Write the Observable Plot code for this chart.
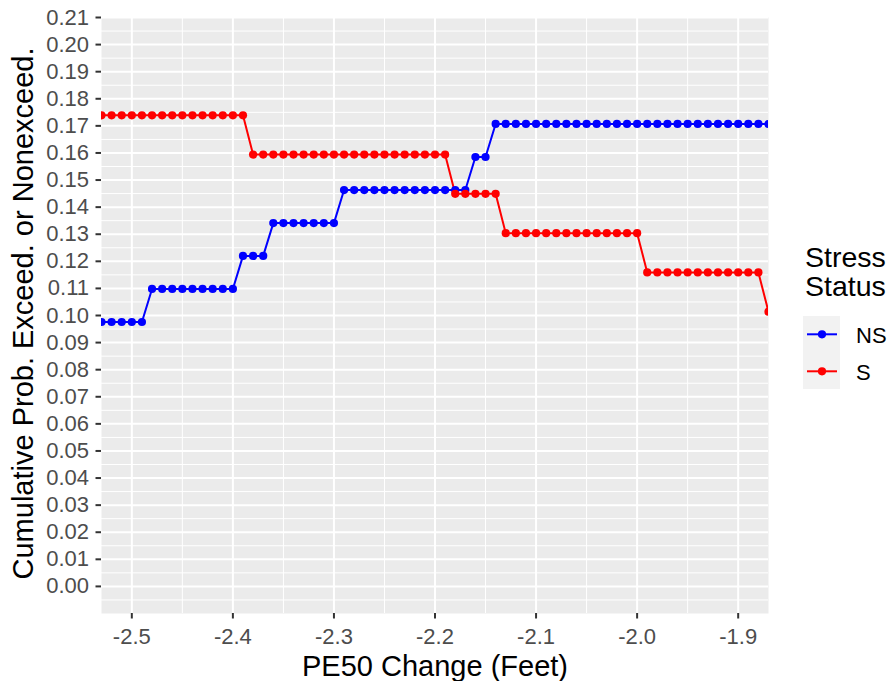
<!DOCTYPE html>
<html>
<head>
<meta charset="utf-8">
<script src="https://cdn.jsdelivr.net/npm/d3@7"></script>
<script src="https://cdn.jsdelivr.net/npm/@observablehq/plot@0.6"></script>
<style>
  html, body { margin: 0; padding: 0; background: #ffffff; }
  #wrap { position: relative; width: 890px; height: 681px; font-family: "Liberation Sans", Arial, sans-serif; }
  #legend { position: absolute; left: 795px; top: 235px; }
</style>
</head>
<body>
<div id="wrap"></div>
<script>
// ---- data ----
const xValues = [-2.53,-2.52,-2.51,-2.50,-2.49,-2.48,-2.47,-2.46,-2.45,-2.44,-2.43,-2.42,-2.41,-2.40,-2.39,-2.38,-2.37,-2.36,-2.35,-2.34,-2.33,-2.32,-2.31,-2.30,-2.29,-2.28,-2.27,-2.26,-2.25,-2.24,-2.23,-2.22,-2.21,-2.20,-2.19,-2.18,-2.17,-2.16,-2.15,-2.14,-2.13,-2.12,-2.11,-2.10,-2.09,-2.08,-2.07,-2.06,-2.05,-2.04,-2.03,-2.02,-2.01,-2.00,-1.99,-1.98,-1.97,-1.96,-1.95,-1.94,-1.93,-1.92,-1.91,-1.90,-1.89,-1.88,-1.87];

const nsValues = [
  0.0976,0.0976,0.0976,0.0976,0.0976,
  0.1098,0.1098,0.1098,0.1098,0.1098,0.1098,0.1098,0.1098,0.1098,
  0.1220,0.1220,0.1220,
  0.1341,0.1341,0.1341,0.1341,0.1341,0.1341,0.1341,
  0.1463,0.1463,0.1463,0.1463,0.1463,0.1463,0.1463,0.1463,0.1463,0.1463,0.1463,0.1463,0.1463,
  0.1585,0.1585,
  0.1707,0.1707,0.1707,0.1707,0.1707,0.1707,0.1707,0.1707,0.1707,0.1707,0.1707,0.1707,0.1707,0.1707,
  0.1707,0.1707,0.1707,0.1707,0.1707,0.1707,0.1707,0.1707,0.1707,0.1707,0.1707,0.1707,0.1707,0.1707
];

const sValues = [
  0.1739,0.1739,0.1739,0.1739,0.1739,0.1739,0.1739,0.1739,0.1739,0.1739,0.1739,0.1739,0.1739,0.1739,0.1739,
  0.1594,0.1594,0.1594,0.1594,0.1594,0.1594,0.1594,0.1594,0.1594,0.1594,0.1594,0.1594,0.1594,0.1594,0.1594,0.1594,0.1594,0.1594,0.1594,0.1594,
  0.1449,0.1449,0.1449,0.1449,0.1449,
  0.1304,0.1304,0.1304,0.1304,0.1304,0.1304,0.1304,0.1304,0.1304,0.1304,0.1304,0.1304,0.1304,0.1304,
  0.1159,0.1159,0.1159,0.1159,0.1159,0.1159,0.1159,0.1159,0.1159,0.1159,0.1159,0.1159,
  0.1014
];

const seriesNames = ["NS", "S"];
const seriesColors = ["#0000FF", "#FF0000"];
const legendTitle = ["Stress", "Status"];

const xTicks = [-2.5, -2.4, -2.3, -2.2, -2.1, -2.0, -1.9];
const xMinor = [-2.45, -2.35, -2.25, -2.15, -2.05, -1.95];
const yTicks = [0,0.01,0.02,0.03,0.04,0.05,0.06,0.07,0.08,0.09,0.10,0.11,0.12,0.13,0.14,0.15,0.16,0.17,0.18,0.19,0.20,0.21];
const yMinor = [-0.005,0.005,0.015,0.025,0.035,0.045,0.055,0.065,0.075,0.085,0.095,0.105,0.115,0.125,0.135,0.145,0.155,0.165,0.175,0.185,0.195,0.205];

const xLabel = "PE50 Change (Feet)";
const yLabel = "Cumulative Prob. Exceed. or Nonexceed.";

// ---- table ----
const rows = [];
seriesNames.forEach((name, k) => {
  const vals = k === 0 ? nsValues : sValues;
  xValues.forEach((x, i) => rows.push({series: name, x, y: vals[i]}));
});

const colorScale = {domain: seriesNames, range: seriesColors};

const chart = Plot.plot({
  width: 890,
  height: 681,
  marginLeft: 101,
  marginRight: 122,
  marginTop: 17,
  marginBottom: 68,
  style: {fontFamily: "'Liberation Sans', Arial, sans-serif", background: "#ffffff", overflow: "visible"},
  x: {domain: [-2.53, -1.87]},
  y: {domain: [-0.01, 0.21]},
  color: colorScale,
  marks: [
    Plot.frame({fill: "#EBEBEB", stroke: null}),
    Plot.gridX(xMinor, {stroke: "#ffffff", strokeOpacity: 1, strokeWidth: 1}),
    Plot.gridY(yMinor, {stroke: "#ffffff", strokeOpacity: 1, strokeWidth: 1}),
    Plot.gridX(xTicks, {stroke: "#ffffff", strokeOpacity: 1, strokeWidth: 2}),
    Plot.gridY(yTicks, {stroke: "#ffffff", strokeOpacity: 1, strokeWidth: 2}),
    Plot.line(rows, {x: "x", y: "y", z: "series", stroke: "series", strokeWidth: 2, clip: "frame"}),
    Plot.dot(rows, {x: "x", y: "y", fill: "series", r: 4.1, stroke: null, clip: "frame"}),
    Plot.axisX({
      ticks: xTicks, tickSize: 5.5, tickPadding: 9.5, tickFormat: d => d.toFixed(1),
      fontSize: 22, fill: "#4D4D4D", stroke: "#333333", strokeWidth: 2, label: null
    }),
    Plot.axisY({
      ticks: yTicks, tickSize: 5.5, tickPadding: 7, tickFormat: d => d.toFixed(2),
      fontSize: 22, fill: "#4D4D4D", stroke: "#333333", strokeWidth: 2, label: null
    }),
    Plot.text([xLabel], {
      text: d => d, frameAnchor: "bottom", lineAnchor: "bottom", textAnchor: "middle", dy: 62.3,
      fontSize: 29, fill: "#000000"
    }),
    Plot.text([yLabel], {
      text: d => d, frameAnchor: "left", lineAnchor: "bottom", textAnchor: "middle", rotate: -90, dx: -69, dy: -2,
      fontSize: 29, fill: "#000000"
    })
  ]
});

const wrap = document.getElementById("wrap");
wrap.appendChild(chart);

// ---- legend (HTML/SVG overlay to the right of the panel) ----
const leg = d3.select(wrap).append("svg")
  .attr("id", "legend")
  .attr("width", 95)
  .attr("height", 160)
  .style("font-family", "'Liberation Sans', Arial, sans-serif");

legendTitle.forEach((t, i) => {
  leg.append("text").attr("x", 10).attr("y", 31.7 + i * 29)
    .attr("font-size", 28.5).attr("fill", "#000").text(t);
});

leg.append("rect").attr("x", 8).attr("y", 81).attr("width", 37).attr("height", 73).attr("fill", "#F2F2F2");

seriesNames.forEach((name, i) => {
  const cy = 99.3 + i * 37;
  leg.append("line").attr("x1", 12).attr("x2", 42).attr("y1", cy).attr("y2", cy)
    .attr("stroke", seriesColors[i]).attr("stroke-width", 2);
  leg.append("circle").attr("cx", 27).attr("cy", cy).attr("r", 4.1).attr("fill", seriesColors[i]);
  leg.append("text").attr("x", 61).attr("y", cy + 8.6)
    .attr("font-size", 22).attr("fill", "#000").text(name);
});
</script>
</body>
</html>
